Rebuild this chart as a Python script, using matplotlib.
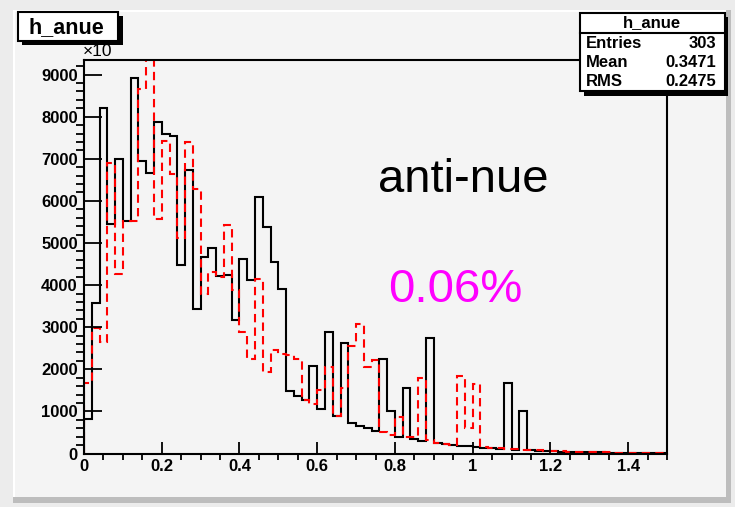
import matplotlib
matplotlib.use('Agg')
import matplotlib.pyplot as plt
from matplotlib.patches import Rectangle
from matplotlib.ticker import MultipleLocator, FixedLocator
import numpy as np

plt.rcParams['font.family'] = ['Liberation Sans', 'DejaVu Sans']

# histogram binning: 75 bins of 0.02 from 0 to 1.5
edges = np.linspace(0, 1.5, 76)

# black solid histogram (h_anue)
black = [
    810, 3570, 8200, 5450, 7000, 5530, 8930, 6950, 6660, 7880,
    7580, 7550, 4480, 6730, 3430, 4670, 4890, 4220, 4250, 3170,
    4620, 4120, 6090, 5390, 4560, 3910, 1490, 1370, 1270, 2090,
    1060, 2880, 890, 2630, 720, 660, 600, 540, 2245, 1010,
    400, 1560, 337, 290, 2740, 242, 220, 200, 185, 170,
    155, 140, 128, 115, 1680, 95, 1020, 80, 70, 60,
    50, 45, 40, 35, 30, 27, 24, 21, 18, 16,
    14, 12, 10, 9, 8]

# red dashed histogram
red = [
    1670, 2970, 2640, 6890, 4260, 5530, 5530, 8660, 9900, 5580,
    7420, 6650, 5110, 7390, 6275, 3800, 4300, 4200, 5420, 3880,
    2890, 2245, 4150, 1940, 2460, 2360, 2330, 2245, 1270, 1170,
    1500, 2050, 900, 1550, 2545, 3080, 2060, 2220, 503, 450,
    875, 385, 385, 1790, 320, 260, 230, 200, 1850, 600,
    1650, 150, 135, 120, 108, 97, 88, 80, 72, 64,
    57, 51, 45, 40, 36, 32, 28, 25, 22, 20,
    18, 16, 14, 12, 11]

xticks = [0, 0.2, 0.4, 0.6, 0.8, 1.0, 1.2, 1.4]
xlabels = ['0', '0.2', '0.4', '0.6', '0.8', '1', '1.2', '1.4']
yticks = [0, 1000, 2000, 3000, 4000, 5000, 6000, 7000, 8000, 9000]

stat_names = ['Entries', 'Mean', 'RMS']
stat_values = ['303', '0.3471', '0.2475']

W, H = 735, 507
fig = plt.figure(figsize=(W / 100, H / 100), dpi=100, facecolor='#ececec')


def box(x0, y0, x1, y1, **kw):
    # rectangle given in pixel coords (origin top-left)
    r = Rectangle((x0 / W, 1 - y1 / H), (x1 - x0) / W, (y1 - y0) / H,
                  transform=fig.transFigure, **kw)
    fig.patches.append(r)
    return r


# pad with bevel
box(13, 10, 729, 500, facecolor='#f4f4f4', edgecolor='none', zorder=-3)
box(13, 10, 729, 12, facecolor='white', edgecolor='none', zorder=-2)
box(13, 10, 15, 500, facecolor='white', edgecolor='none', zorder=-2)
box(13, 497, 731, 503, facecolor='#bdbdbd', edgecolor='none', zorder=-2)
box(726, 10, 731, 503, facecolor='#bdbdbd', edgecolor='none', zorder=-2)

ax = fig.add_axes([84 / W, 1 - 453.5 / H, (667 - 84) / W, (453.5 - 60) / H],
                  facecolor='#f4f4f4')

ax.stairs(black, edges, color='black', lw=1.5, baseline=0)
ax.stairs(red, edges, color='red', lw=1.5, ls=(0, (4, 2.5)), baseline=0)

ax.set_xlim(0, 1.5)
ax.set_ylim(0, 9347)

for s in ax.spines.values():
    s.set_linewidth(1.5)

ax.xaxis.set_major_locator(FixedLocator(xticks))
ax.set_xticklabels(xlabels)
ax.xaxis.set_minor_locator(MultipleLocator(0.05))
ax.yaxis.set_major_locator(FixedLocator(yticks))
ax.set_yticklabels([str(v) for v in yticks])
ax.yaxis.set_minor_locator(MultipleLocator(200))

ax.tick_params(direction='in', width=1.3, labelsize=12, top=False, right=False)
ax.xaxis.set_tick_params(which='major', length=8.5, pad=4)
ax.xaxis.set_tick_params(which='minor', length=4.2, width=1.3)
ax.yaxis.set_tick_params(which='major', length=12.6, pad=4.5)
ax.yaxis.set_tick_params(which='minor', length=6, width=1.3)
for lab in ax.get_xticklabels() + ax.get_yticklabels():
    lab.set_fontweight('bold')

ax.text(0.757, 6200, 'anti-nue', fontsize=34, color='black', va='baseline')
ax.text(0.782, 3600, '0.06%', fontsize=34, color='#ff00ff', va='baseline')

# exponent label
fig.text(83 / W, 1 - 56 / H, '\u00d710', fontsize=12.5, va='baseline')

# title box
box(22, 16, 123, 45, facecolor='black', edgecolor='none', zorder=5)
box(18, 12, 118, 41, facecolor='white', edgecolor='black', lw=1.5, zorder=6)
fig.text(29 / W, 1 - 33 / H, 'h_anue', fontsize=15.5, fontweight='bold',
         va='baseline', zorder=7)

# stats box
box(584, 17, 728, 96, facecolor='black', edgecolor='none', zorder=5)
box(579.5, 12.5, 724.5, 90.5, facecolor='white', edgecolor='black', lw=1.5, zorder=6)
fig.add_artist(plt.Line2D([579.5 / W, 724.5 / W], [1 - 32.5 / H, 1 - 32.5 / H],
                          color='black', lw=1.5, transform=fig.transFigure, zorder=7))
fig.text(652 / W, 1 - 27 / H, 'h_anue', fontsize=12, fontweight='bold',
         ha='center', va='baseline', zorder=7)
for i, (n, v) in enumerate(zip(stat_names, stat_values)):
    yb = 1 - (48.3 + i * 18.7) / H
    fig.text(586 / W, yb, n, fontsize=12, fontweight='bold', va='baseline', zorder=7)
    fig.text(716 / W, yb, v, fontsize=12, fontweight='bold', ha='right',
             va='baseline', zorder=7)

fig.savefig('out.png', dpi=100, facecolor=fig.get_facecolor())
